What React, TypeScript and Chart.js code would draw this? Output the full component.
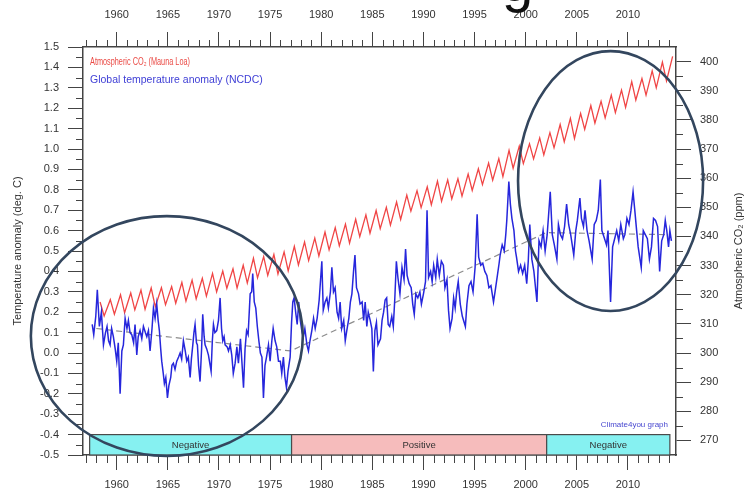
import React, { useEffect, useRef } from 'react';
import { Chart, registerables } from 'chart.js';

Chart.register(...registerables);

// ---------- data ----------
const xTickYears = [1960, 1965, 1970, 1975, 1980, 1985, 1990, 1995, 2000, 2005, 2010];
const tempTicks = [-0.5, -0.4, -0.3, -0.2, -0.1, 0, 0.1, 0.2, 0.3, 0.4, 0.5, 0.6, 0.7, 0.8, 0.9, 1.0, 1.1, 1.2, 1.3, 1.4, 1.5];
const co2Ticks = [270, 280, 290, 300, 310, 320, 330, 340, 350, 360, 370, 380, 390, 400];

const co2Years = [1958, 1959, 1960, 1961, 1962, 1963, 1964, 1965, 1966, 1967, 1968, 1969, 1970, 1971, 1972, 1973, 1974, 1975, 1976, 1977,
  1978, 1979, 1980, 1981, 1982, 1983, 1984, 1985, 1986, 1987, 1988, 1989, 1990, 1991, 1992, 1993, 1994, 1995, 1996, 1997,
  1998, 1999, 2000, 2001, 2002, 2003, 2004, 2005, 2006, 2007, 2008, 2009, 2010, 2011, 2012, 2013, 2014];
// seasonal (May) peak, ppm
const co2MayPeak = [317.5, 318.3, 320.0, 320.6, 321.6, 322.3, 322.4, 322.8, 324.2, 325.0, 325.6, 327.3, 328.1, 328.9, 330.1, 332.5, 333.1, 333.8, 334.7, 336.6,
  338.1, 339.4, 341.5, 343.0, 344.2, 345.9, 347.4, 348.9, 350.0, 351.8, 354.2, 355.7, 357.0, 359.0, 359.4, 359.8, 361.4, 363.2, 365.2, 366.7,
  369.5, 371.0, 371.8, 373.8, 375.6, 378.4, 380.5, 382.2, 384.9, 386.4, 388.5, 390.2, 393.1, 394.2, 396.8, 399.8, 401.8];
// seasonal (Sep/Oct) low, ppm
const co2AutumnLow = [312.7, 313.3, 313.8, 314.8, 315.0, 315.9, 316.6, 317.1, 317.8, 318.6, 319.5, 321.0, 322.2, 322.3, 324.0, 325.8, 326.6, 327.1, 328.2, 330.2,
  331.7, 333.3, 335.4, 336.8, 337.7, 339.9, 341.1, 342.7, 343.9, 345.8, 348.7, 349.9, 350.9, 352.1, 352.9, 353.8, 355.8, 357.8, 359.3, 360.5,
  363.4, 365.0, 366.6, 368.0, 370.4, 372.5, 373.6, 376.7, 378.9, 380.7, 382.5, 384.3, 386.8, 388.5, 391.0, 393.4];

// global temperature anomaly (NCDC), [decimal year, deg C]
const tempAnomaly: [number, number][] = [
  [1957.6, 0.14], [1957.75, 0.09], [1957.95, 0.18], [1958.1, 0.31], [1958.3, 0.13], [1958.5, 0.20], [1958.7, 0.04], [1958.9, 0.10],
  [1959.05, 0.13], [1959.2, 0.06], [1959.35, 0.04], [1959.5, 0.12], [1959.67, 0.08], [1959.85, 0.02], [1960.0, -0.04], [1960.15, 0.05],
  [1960.33, -0.20], [1960.5, 0.01], [1960.65, 0.04], [1960.82, 0.17], [1961.0, 0.12], [1961.14, 0.16], [1961.3, 0.10], [1961.47, 0.09],
  [1961.65, 0.05], [1961.79, 0.14], [1961.96, -0.01], [1962.1, 0.08], [1962.28, 0.11], [1962.45, 0.07], [1962.61, 0.13], [1962.8, 0.10],
  [1962.94, 0.08], [1963.1, 0.11], [1963.26, 0.01], [1963.45, 0.12], [1963.59, 0.22], [1963.75, 0.17], [1963.91, 0.24], [1964.05, 0.16],
  [1964.17, 0.11], [1964.3, 0.02], [1964.4, -0.04], [1964.55, -0.10], [1964.66, -0.15], [1964.8, -0.12], [1964.96, -0.22], [1965.1, -0.16],
  [1965.28, -0.12], [1965.4, -0.06], [1965.54, -0.05], [1965.7, -0.08], [1965.87, -0.04], [1966.05, -0.02], [1966.2, 0.00], [1966.35, -0.03],
  [1966.52, 0.06], [1966.7, 0.01], [1966.85, -0.04], [1967.0, -0.02], [1967.18, -0.12], [1967.3, -0.03], [1967.44, 0.04], [1967.55, 0.10],
  [1967.66, 0.14], [1967.8, 0.05], [1967.89, 0.04], [1968.0, -0.06], [1968.15, -0.14], [1968.3, 0.02], [1968.41, 0.19], [1968.55, 0.08],
  [1968.64, 0.04], [1968.8, 0.02], [1968.97, -0.01], [1969.1, -0.05], [1969.23, -0.09], [1969.35, 0.06], [1969.46, 0.14], [1969.6, 0.10],
  [1969.78, 0.11], [1969.95, 0.16], [1970.11, 0.27], [1970.25, 0.12], [1970.37, 0.06], [1970.5, 0.08], [1970.6, 0.04], [1970.8, 0.03],
  [1970.93, 0.01], [1971.1, 0.04], [1971.25, -0.01], [1971.4, -0.10], [1971.58, -0.05], [1971.75, 0.03], [1971.9, -0.05], [1972.1, 0.07],
  [1972.25, -0.05], [1972.4, -0.17], [1972.55, 0.02], [1972.7, 0.11], [1972.85, 0.09], [1973.05, 0.29], [1973.2, 0.30], [1973.3, 0.39],
  [1973.45, 0.25], [1973.6, 0.22], [1973.75, 0.13], [1973.9, 0.06], [1974.05, 0.00], [1974.2, -0.02], [1974.35, -0.22], [1974.5, -0.06],
  [1974.65, -0.02], [1974.84, 0.04], [1975.0, -0.04], [1975.17, 0.06], [1975.3, 0.12], [1975.49, 0.06], [1975.65, 0.03], [1975.82, -0.04],
  [1976.0, -0.04], [1976.14, -0.10], [1976.3, -0.02], [1976.45, -0.12], [1976.6, -0.17], [1976.75, -0.09], [1976.96, -0.02], [1977.1, 0.15],
  [1977.22, 0.25], [1977.35, 0.27], [1977.5, 0.20], [1977.65, 0.14], [1977.8, 0.25], [1977.95, 0.16], [1978.1, 0.11], [1978.25, 0.08],
  [1978.4, 0.12], [1978.6, 0.04], [1978.75, 0.01], [1978.9, 0.06], [1979.08, 0.11], [1979.25, 0.17], [1979.41, 0.12], [1979.6, 0.17],
  [1979.8, 0.26], [1980.06, 0.45], [1980.2, 0.21], [1980.38, 0.25], [1980.55, 0.27], [1980.7, 0.22], [1980.9, 0.30], [1981.04, 0.42],
  [1981.2, 0.30], [1981.36, 0.32], [1981.55, 0.20], [1981.7, 0.17], [1981.85, 0.25], [1982.0, 0.12], [1982.2, 0.16], [1982.35, 0.06],
  [1982.5, 0.11], [1982.7, 0.17], [1982.85, 0.25], [1983.0, 0.29], [1983.16, 0.40], [1983.3, 0.48], [1983.45, 0.32], [1983.65, 0.29],
  [1983.8, 0.24], [1984.0, 0.25], [1984.15, 0.16], [1984.3, 0.25], [1984.46, 0.13], [1984.6, 0.20], [1984.79, 0.16], [1984.95, 0.12],
  [1985.1, -0.09], [1985.25, 0.11], [1985.4, 0.15], [1985.55, 0.04], [1985.8, 0.07], [1985.95, 0.16], [1986.1, 0.20], [1986.25, 0.26],
  [1986.4, 0.27], [1986.55, 0.14], [1986.7, 0.13], [1986.9, 0.18], [1987.05, 0.13], [1987.2, 0.27], [1987.35, 0.45], [1987.5, 0.37],
  [1987.7, 0.29], [1987.9, 0.42], [1988.1, 0.36], [1988.25, 0.51], [1988.4, 0.38], [1988.6, 0.34], [1988.8, 0.32], [1988.95, 0.24],
  [1989.1, 0.19], [1989.25, 0.29], [1989.45, 0.27], [1989.65, 0.30], [1989.8, 0.24], [1990.0, 0.29], [1990.2, 0.35], [1990.35, 0.70],
  [1990.5, 0.37], [1990.7, 0.40], [1990.85, 0.35], [1991.0, 0.43], [1991.2, 0.37], [1991.35, 0.46], [1991.55, 0.38], [1991.75, 0.45],
  [1991.95, 0.43], [1992.1, 0.32], [1992.3, 0.36], [1992.45, 0.21], [1992.6, 0.12], [1992.8, 0.17], [1992.95, 0.27], [1993.1, 0.22],
  [1993.25, 0.30], [1993.4, 0.35], [1993.6, 0.24], [1993.8, 0.18], [1994.1, 0.13], [1994.25, 0.24], [1994.45, 0.33], [1994.65, 0.35],
  [1994.85, 0.30], [1995.05, 0.42], [1995.25, 0.68], [1995.4, 0.47], [1995.6, 0.43], [1995.8, 0.44], [1996.0, 0.40], [1996.2, 0.38],
  [1996.4, 0.32], [1996.6, 0.33], [1996.85, 0.25], [1997.0, 0.30], [1997.2, 0.37], [1997.4, 0.44], [1997.5, 0.48], [1997.7, 0.53],
  [1997.9, 0.50], [1998.05, 0.58], [1998.15, 0.65], [1998.35, 0.84], [1998.5, 0.73], [1998.65, 0.66], [1998.85, 0.60], [1999.0, 0.50],
  [1999.1, 0.47], [1999.3, 0.40], [1999.5, 0.43], [1999.7, 0.39], [1999.9, 0.43], [2000.1, 0.34], [2000.25, 0.45], [2000.4, 0.63],
  [2000.6, 0.46], [2000.8, 0.40], [2001.0, 0.30], [2001.1, 0.25], [2001.3, 0.55], [2001.5, 0.52], [2001.7, 0.60], [2001.9, 0.50],
  [2002.1, 0.58], [2002.4, 0.79], [2002.6, 0.58], [2002.8, 0.53], [2003.05, 0.46], [2003.2, 0.63], [2003.4, 0.58], [2003.6, 0.56],
  [2003.8, 0.62], [2004.0, 0.73], [2004.2, 0.63], [2004.4, 0.58], [2004.7, 0.48], [2004.9, 0.60], [2005.05, 0.65], [2005.3, 0.76],
  [2005.45, 0.66], [2005.65, 0.62], [2005.8, 0.70], [2006.0, 0.60], [2006.2, 0.55], [2006.5, 0.46], [2006.7, 0.63], [2006.9, 0.65],
  [2007.1, 0.70], [2007.3, 0.85], [2007.45, 0.60], [2007.65, 0.57], [2007.9, 0.53], [2008.05, 0.60], [2008.3, 0.25], [2008.5, 0.52],
  [2008.7, 0.56], [2008.9, 0.60], [2009.1, 0.55], [2009.3, 0.63], [2009.55, 0.56], [2009.7, 0.58], [2009.9, 0.66], [2010.1, 0.63],
  [2010.3, 0.70], [2010.5, 0.79], [2010.65, 0.71], [2010.85, 0.60], [2011.0, 0.52], [2011.3, 0.42], [2011.5, 0.60], [2011.7, 0.58],
  [2011.9, 0.56], [2012.1, 0.46], [2012.3, 0.52], [2012.5, 0.66], [2012.7, 0.65], [2012.9, 0.62], [2013.1, 0.40], [2013.3, 0.55],
  [2013.5, 0.58], [2013.65, 0.65], [2013.8, 0.60], [2013.97, 0.52], [2014.1, 0.60], [2014.25, 0.55],
];

const trendYears = [1958, 1977, 2002, 2014.2];
const trendValues = [0.12, 0.01, 0.59, 0.58];

const phaseStart = [1957.35, 1977.1, 2002.05];
const phaseEnd = [1977.1, 2002.05, 2014.1];
const phaseLabel = ['Negative', 'Positive', 'Negative'];
const phaseColor = ['#86f1f1', '#f6bcbc', '#86f1f1'];

// highlight ellipses (data coordinates)
const ellipseYear = [1964.9, 2008.3];
const ellipseTemp = [0.083, 0.843];
const ellipseRadiusYears = [13.3, 9.05];
const ellipseRadiusTemp = [0.588, 0.637];

// ---------- styles ----------
const FONT = 'Liberation Sans, Arial, Helvetica, sans-serif';
const AXIS = '#444';
const LABEL = '#333';

const overlay = {
  id: 'overlay',
  beforeDatasetsDraw(chart: any) {
    const { ctx, scales } = chart;
    const x = scales.x;
    const y = scales.y;
    ctx.save();
    for (let i = 0; i < phaseStart.length; i++) {
      const l = x.getPixelForValue(phaseStart[i]);
      const r = x.getPixelForValue(phaseEnd[i]);
      const t = y.getPixelForValue(-0.4);
      const b = y.getPixelForValue(-0.5);
      ctx.fillStyle = phaseColor[i];
      ctx.fillRect(l, t, r - l, b - t);
      ctx.strokeStyle = '#4a4a4a';
      ctx.lineWidth = 1.2;
      ctx.strokeRect(l, t, r - l, b - t);
      ctx.fillStyle = '#333';
      ctx.font = `9.5px ${FONT}`;
      ctx.textAlign = 'center';
      ctx.textBaseline = 'middle';
      ctx.fillText(phaseLabel[i], (l + r) / 2, (t + b) / 2 + 1);
    }
    ctx.restore();
  },
  afterDraw(chart: any) {
    const { ctx, scales, chartArea } = chart;
    const x = scales.x;
    const y = scales.y;
    const y2 = scales.y2;
    const { left, right, top, bottom } = chartArea;
    ctx.save();

    // minor ticks
    ctx.strokeStyle = AXIS;
    ctx.lineWidth = 1;
    ctx.beginPath();
    for (let yr = 1957; yr <= 2014; yr++) {
      if (yr % 5 === 0) continue;
      const px = Math.round(x.getPixelForValue(yr)) + 0.5;
      ctx.moveTo(px, bottom);
      ctx.lineTo(px, bottom + 8);
      ctx.moveTo(px, top);
      ctx.lineTo(px, top - 7);
    }
    for (let k = 0; k < 20; k++) {
      const v = -0.45 + k * 0.1;
      const py = Math.round(y.getPixelForValue(v)) + 0.5;
      ctx.moveTo(left, py);
      ctx.lineTo(left - 7, py);
    }
    for (let v = 275; v < 405; v += 10) {
      const py = Math.round(y2.getPixelForValue(v)) + 0.5;
      ctx.moveTo(right, py);
      ctx.lineTo(right + 7, py);
    }
    ctx.stroke();

    // legend text
    ctx.textAlign = 'left';
    ctx.textBaseline = 'middle';
    ctx.fillStyle = '#ea4a45';
    ctx.font = `10px ${FONT}`;
    ctx.fillText('Atmospheric CO\u2082 (Mauna Loa)', left + 7, top + 15, 100);
    ctx.fillStyle = '#4040d6';
    ctx.font = `10.5px ${FONT}`;
    ctx.fillText('Global temperature anomaly (NCDC)', left + 7, top + 33, 187);

    // credit
    ctx.textAlign = 'right';
    ctx.fillStyle = '#4848d0';
    ctx.font = `8px ${FONT}`;
    ctx.fillText('Climate4you graph', right - 8, y.getPixelForValue(-0.35), 75);

    // axis titles
    ctx.fillStyle = LABEL;
    ctx.font = `11px ${FONT}`;
    ctx.textAlign = 'center';
    ctx.save();
    ctx.translate(18, (top + bottom) / 2);
    ctx.rotate(-Math.PI / 2);
    ctx.fillText('Temperature anomaly (deg. C)', 0, 0);
    ctx.restore();
    ctx.save();
    ctx.translate(739, (top + bottom) / 2);
    ctx.rotate(-Math.PI / 2);
    ctx.fillText('Atmospheric CO\u2082 (ppm)', 0, 0);
    ctx.restore();

    // highlight ellipses
    ctx.strokeStyle = '#33465e';
    ctx.lineWidth = 2.6;
    for (let i = 0; i < ellipseYear.length; i++) {
      const cx = x.getPixelForValue(ellipseYear[i]);
      const cy = y.getPixelForValue(ellipseTemp[i]);
      const rx = Math.abs(x.getPixelForValue(ellipseYear[i] + ellipseRadiusYears[i]) - cx);
      const ry = Math.abs(y.getPixelForValue(ellipseTemp[i] + ellipseRadiusTemp[i]) - cy);
      ctx.beginPath();
      ctx.ellipse(cx, cy, rx, ry, 0, 0, Math.PI * 2);
      ctx.stroke();
    }

    // cropped slide title (only the descender is visible)
    ctx.fillStyle = '#111';
    ctx.font = `56px ${FONT}`;
    ctx.textAlign = 'left';
    ctx.textBaseline = 'alphabetic';
    ctx.fillText('g', 502, 1);

    ctx.restore();
  },
};

function xAxis(position: 'top' | 'bottom', height: number, padding: number) {
  return {
    type: 'linear',
    position,
    min: 1956.7,
    max: 2014.7,
    afterBuildTicks: (s: any) => {
      s.ticks = xTickYears.map((v) => ({ value: v }));
    },
    afterFit: (s: any) => {
      s.height = height;
    },
    grid: { drawOnChartArea: false, drawTicks: true, tickLength: 15, color: AXIS, lineWidth: 1 },
    border: { display: true, color: AXIS, width: 1.5 },
    ticks: {
      color: LABEL,
      font: { family: FONT, size: 11 },
      padding,
      maxRotation: 0,
      autoSkip: false,
      callback: (v: any) => String(v),
    },
  };
}

export default function App() {
  const ref = useRef<HTMLCanvasElement | null>(null);

  useEffect(() => {
    if (!ref.current) return;
    const co2Points: { x: number; y: number }[] = [];
    co2Years.forEach((yr, i) => {
      co2Points.push({ x: yr + 0.37, y: co2MayPeak[i] });
      if (i < co2AutumnLow.length) co2Points.push({ x: yr + 0.77, y: co2AutumnLow[i] });
    });

    const chart = new Chart(ref.current, {
      type: 'line',
      data: {
        datasets: [
          {
            label: 'Global temperature anomaly (NCDC)',
            data: tempAnomaly.map(([yr, v]) => ({ x: yr, y: v })),
            borderColor: '#2626dc',
            borderWidth: 1.5,
            pointRadius: 0,
            tension: 0,
            xAxisID: 'x',
            yAxisID: 'y',
          },
          {
            label: 'Trend',
            data: trendYears.map((yr, i) => ({ x: yr, y: trendValues[i] })),
            borderColor: 'rgba(120,120,120,0.85)',
            borderWidth: 1.2,
            borderDash: [6, 4],
            pointRadius: 0,
            xAxisID: 'x',
            yAxisID: 'y',
          },
          {
            label: 'Atmospheric CO2 (Mauna Loa)',
            data: co2Points,
            borderColor: '#f04545',
            borderWidth: 1.3,
            pointRadius: 0,
            tension: 0,
            xAxisID: 'x',
            yAxisID: 'y2',
          },
        ],
      },
      options: {
        responsive: false,
        animation: false,
        layout: { padding: 0 },
        plugins: { legend: { display: false }, tooltip: { enabled: false } },
        scales: {
          x: xAxis('bottom', 38, 8) as any,
          x2: xAxis('top', 47, 10) as any,
          y: {
            type: 'linear',
            position: 'left',
            min: -0.5,
            max: 1.5,
            afterBuildTicks: (s: any) => {
              s.ticks = tempTicks.map((v) => ({ value: v }));
            },
            afterFit: (s: any) => {
              s.width = 83;
            },
            grid: { drawOnChartArea: false, drawTicks: true, tickLength: 15, color: AXIS, lineWidth: 1 },
            border: { display: true, color: AXIS, width: 1.5 },
            ticks: {
              color: LABEL,
              font: { family: FONT, size: 11 },
              padding: 9,
              autoSkip: false,
              callback: (v: any) => Number(v).toFixed(1),
            },
          },
          y2: {
            type: 'linear',
            position: 'right',
            min: 265,
            max: 405,
            afterBuildTicks: (s: any) => {
              s.ticks = co2Ticks.map((v) => ({ value: v }));
            },
            afterFit: (s: any) => {
              s.width = 70;
            },
            grid: { drawOnChartArea: false, drawTicks: true, tickLength: 15, color: AXIS, lineWidth: 1 },
            border: { display: true, color: AXIS, width: 1.5 },
            ticks: {
              color: LABEL,
              font: { family: FONT, size: 11 },
              padding: 9,
              autoSkip: false,
              callback: (v: any) => String(v),
            },
          },
        },
      } as any,
      plugins: [overlay],
    });
    return () => chart.destroy();
  }, []);

  return (
    <div style={{ position: 'absolute', left: 0, top: 0, width: 746, height: 493, background: '#fff' }}>
      <canvas ref={ref} width={746} height={493} style={{ display: 'block' }} />
    </div>
  );
}
